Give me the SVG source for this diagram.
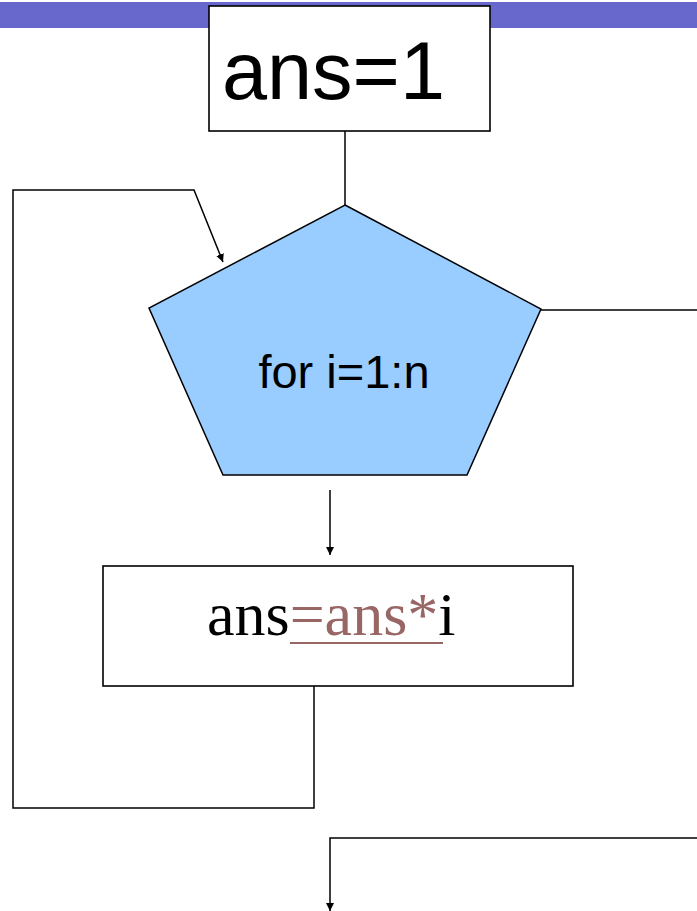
<svg xmlns="http://www.w3.org/2000/svg" width="697" height="911" viewBox="0 0 697 911">
  <style>
    .edge { fill: none; stroke: #000; stroke-width: 1.5; }
    .box { fill: #fff; stroke: #000; stroke-width: 1.6; }
    .sans { font-family: "Liberation Sans", Arial, sans-serif; fill: #000; }
    .serif { font-family: "Liberation Serif", "Times New Roman", serif; fill: #000; }
  </style>
  <defs>
    <marker id="arrow" viewBox="0 0 10 10" refX="10" refY="5" markerWidth="8" markerHeight="8" markerUnits="userSpaceOnUse" orient="auto">
      <path d="M0,0 L10,5 L0,10 z" fill="#000"/>
    </marker>
  </defs>

  <!-- title band -->
  <rect x="0" y="2" width="697" height="26" fill="#6868cc"/>

  <!-- connectors -->
  <g id="connectors">
    <path class="edge" d="M345,131 L345,205"/>
    <path class="edge" d="M330,490 L330,555" marker-end="url(#arrow)"/>
    <path class="edge" d="M314,686 L314,808 L13,808 L13,190 L194,190 L223,262" marker-end="url(#arrow)"/>
    <path class="edge" d="M541,310 L697,310"/>
    <path class="edge" d="M697,838 L330,838 L330,911" marker-end="url(#arrow)"/>
  </g>

  <!-- initialisation -->
  <g id="init">
    <rect class="box" x="209" y="6" width="281" height="125"/>
    <text class="sans" x="222" y="99" font-size="81">ans=1</text>
  </g>

  <!-- loop header -->
  <g id="loop">
    <polygon points="345,205 541,309 467,475 223,475 149,308" fill="#99ccff" stroke="#000" stroke-width="1.5"/>
    <text class="sans" x="344" y="388" font-size="47" text-anchor="middle">for i=1:n</text>
  </g>

  <!-- loop body -->
  <g id="body">
    <rect class="box" x="103" y="566" width="470" height="120"/>
    <text class="serif" x="207" y="635" font-size="62">ans<tspan fill="#996666">=ans*</tspan>i</text>
    <line x1="290" y1="643" x2="443" y2="643" stroke="#996666" stroke-width="2"/>
  </g>
</svg>
